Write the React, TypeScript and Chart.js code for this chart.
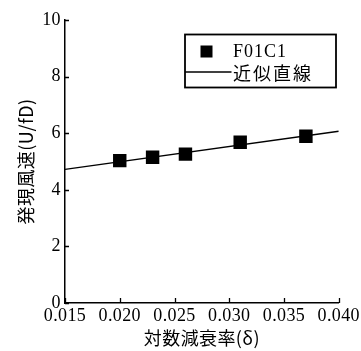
import React, { useEffect, useRef } from "react";
import { Chart, registerables } from "chart.js";

Chart.register(...registerables);

const dampingRatio = [0.02, 0.023, 0.026, 0.031, 0.037];
const onsetSpeed = [5.03, 5.15, 5.26, 5.68, 5.89];
const fitX = [0.015, 0.04];
const fitY = [4.72, 6.07];
const xTicks = [0.015, 0.02, 0.025, 0.03, 0.035, 0.04];
const yTicks = [0, 2, 4, 6, 8, 10];
const seriesLabel = "F01C1";
const fitLabel = "近似直線";
const xTitle = "対数減衰率(δ)";
const yTitle = "発現風速(U/fD)";

const SERIF = '"Liberation Serif", "DejaVu Serif", serif';
const CJK = '"Noto Sans CJK JP", "Noto Sans", sans-serif';

const customPlugin = {
  id: "custom",
  beforeDraw(chart: any) {
    chart.ctx.letterSpacing = "0.4px";
  },
  afterDraw(chart: any) {
    const ctx = chart.ctx;
    const xs = chart.scales.x;
    const ys = chart.scales.y;
    const area = chart.chartArea;
    ctx.save();
    ctx.strokeStyle = "#000";
    ctx.lineWidth = 1.3;
    ctx.beginPath();
    xs.ticks.forEach((t: any) => {
      const px = Math.round(xs.getPixelForValue(t.value)) + 0.5;
      ctx.moveTo(px, area.bottom);
      ctx.lineTo(px, area.bottom - 5);
    });
    ys.ticks.forEach((t: any) => {
      const py = Math.round(ys.getPixelForValue(t.value)) + 0.5;
      ctx.moveTo(area.left, py);
      ctx.lineTo(area.left + 4, py);
    });
    ctx.stroke();

    // legend
    const bx = 185;
    const by = 34.5;
    ctx.lineWidth = 1.8;
    ctx.strokeRect(bx, by, 151, 53);
    ctx.fillStyle = "#000";
    ctx.fillRect(bx + 15.5, by + 11, 12, 12);
    ctx.letterSpacing = "1px";
    ctx.font = "18px " + SERIF;
    ctx.textBaseline = "middle";
    ctx.textAlign = "left";
    ctx.fillText(seriesLabel, bx + 48, by + 17.5);
    ctx.lineWidth = 1.3;
    ctx.beginPath();
    ctx.moveTo(bx, by + 37.5);
    ctx.lineTo(bx + 46.5, by + 37.5);
    ctx.stroke();
    ctx.letterSpacing = "2px";
    ctx.font = "18px " + CJK;
    ctx.fillText(fitLabel, bx + 48, by + 38.5);
    ctx.restore();
  },
};

export default function App() {
  const ref = useRef<HTMLCanvasElement>(null);
  useEffect(() => {
    if (!ref.current) return;
    const chart = new Chart(ref.current, {
      type: "scatter",
      data: {
        datasets: [
          {
            type: "line",
            label: fitLabel,
            data: fitX.map((x, i) => ({ x, y: fitY[i] })),
            borderColor: "#000",
            borderWidth: 1.4,
            pointRadius: 0,
            fill: false,
            order: 2,
          } as any,
          {
            type: "scatter",
            label: seriesLabel,
            data: dampingRatio.map((x, i) => ({ x, y: onsetSpeed[i] })),
            pointStyle: "rect",
            pointRadius: 9.5,
            backgroundColor: "#000",
            borderColor: "#000",
            borderWidth: 0,
            order: 1,
          },
        ],
      },
      options: {
        animation: false,
        responsive: false,
        devicePixelRatio: 1,
        layout: { padding: { top: 20, right: 22, left: 0, bottom: 0 } },
        plugins: { legend: { display: false }, tooltip: { enabled: false } },
        scales: {
          x: {
            type: "linear",
            min: 0.015,
            max: 0.04,
            afterBuildTicks: (s: any) => {
              s.ticks = xTicks.map((v) => ({ value: v }));
            },
            afterFit: (s: any) => {
              s.height = 48;
            },
            grid: { display: false, drawTicks: false },
            border: { display: true, color: "#000", width: 1.5 },
            ticks: {
              color: "#000",
              font: { family: SERIF, size: 18 },
              padding: 2,
              maxRotation: 0,
              autoSkip: false,
              callback: (v: any) => Number(v).toFixed(3),
            },
            title: {
              display: true,
              text: xTitle,
              color: "#000",
              font: { family: CJK, size: 18 },
              padding: { top: 0, bottom: 2 },
            },
          },
          y: {
            type: "linear",
            min: 0,
            max: 10,
            afterBuildTicks: (s: any) => {
              s.ticks = yTicks.map((v) => ({ value: v }));
            },
            afterFit: (s: any) => {
              s.width = 65;
            },
            grid: { display: false, drawTicks: false },
            border: { display: true, color: "#000", width: 1.5 },
            ticks: {
              color: "#000",
              font: { family: SERIF, size: 18 },
              padding: 4,
              autoSkip: false,
              callback: (v: any) => String(v),
            },
            title: {
              display: true,
              text: yTitle,
              color: "#000",
              font: { family: CJK, size: 18 },
              padding: { top: 15, bottom: 0 },
            },
          },
        },
      },
      plugins: [customPlugin],
    } as any);
    return () => chart.destroy();
  }, []);
  return (
    <div style={{ position: "absolute", left: 0, top: 0, width: 361, height: 351, background: "#fff" }}>
      <canvas ref={ref} width={361} height={351} style={{ display: "block" }} />
    </div>
  );
}
